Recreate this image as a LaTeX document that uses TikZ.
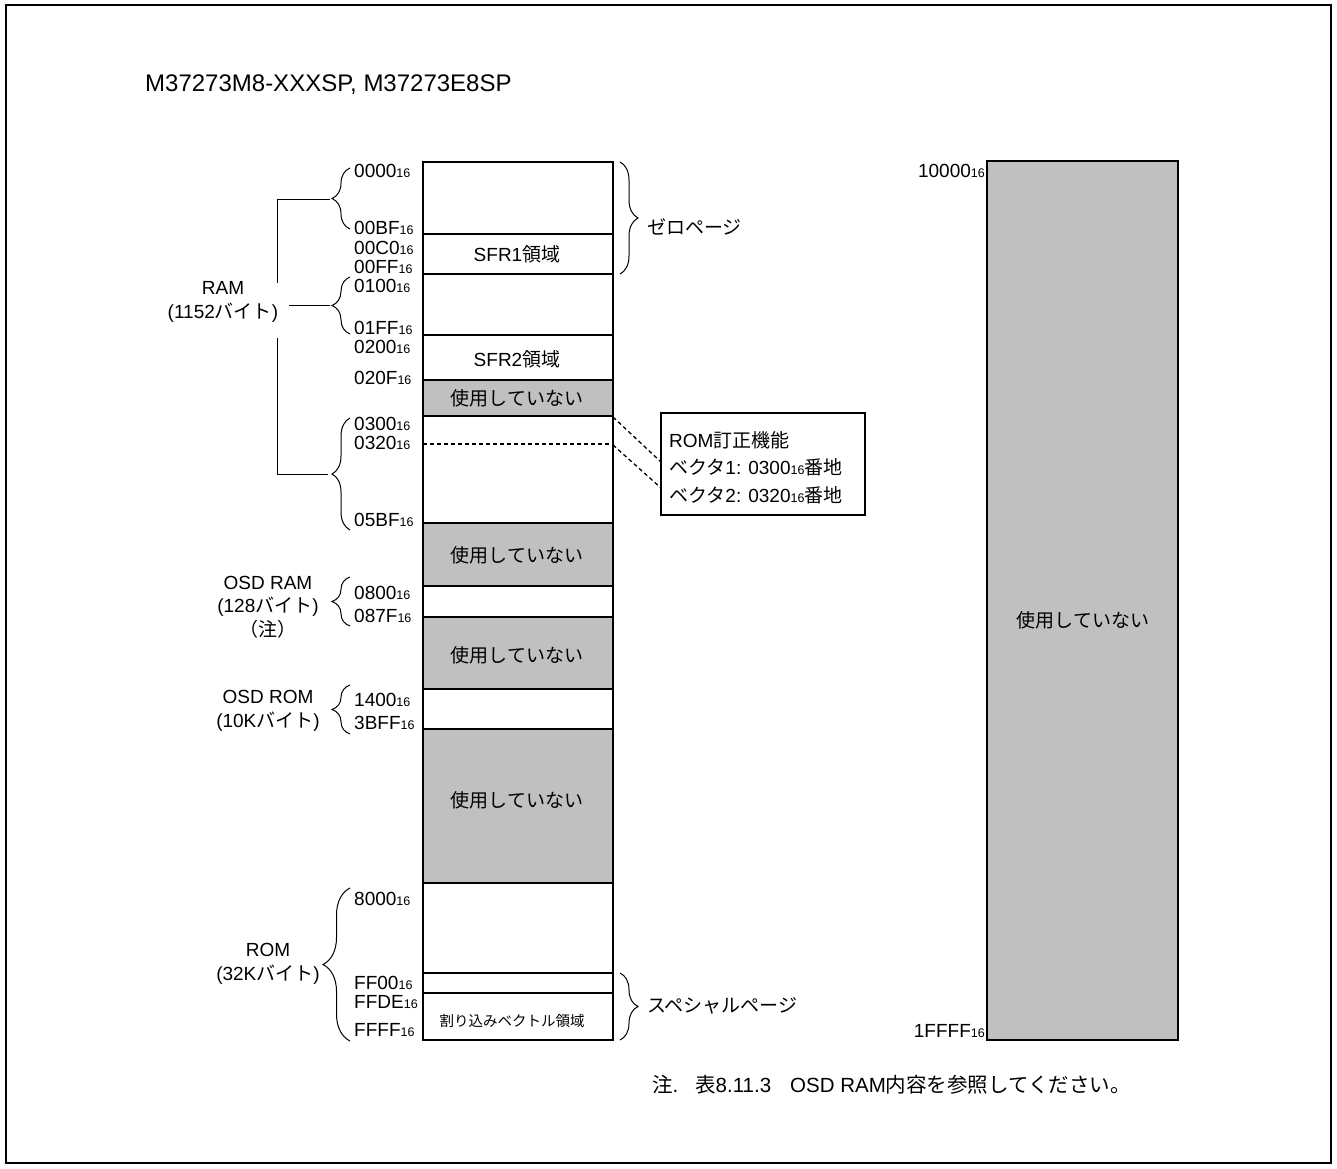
\documentclass[tikz,border=0pt]{standalone}
\usepackage{fontspec}
\setmainfont{Liberation Sans}
\newfontfamily\jp{Noto Sans CJK JP}
\usetikzlibrary{decorations.pathreplacing}
\definecolor{unused}{RGB}{192,192,192}
\newcommand\sxt{{\fontsize{12.5}{12.5}\selectfont 16}}
\begin{document}
\begin{tikzpicture}[x=1pt,y=-1pt,
  lbl/.style={font=\fontsize{19}{23.5}\selectfont, inner sep=0pt, align=center},
  addr/.style={lbl, anchor=west},
  cell/.style={draw, line width=2pt},
  grayc/.style={cell, fill=unused},
  brc/.style={decorate, decoration={brace, amplitude=18pt}, line width=1pt},
  brcbig/.style={decorate, decoration={brace, amplitude=27pt}, line width=1pt},
  conn/.style={line width=1pt},
  dconn/.style={line width=1.3pt, dash pattern=on 4pt off 3pt},
  notef/.style={lbl, anchor=west, font=\fontsize{20.5}{24}\selectfont}]
\useasboundingbox (0,0) rectangle (1337,1168);
% frame
\draw[line width=2pt] (6,5) rectangle (1331,1163);
% title
\node[lbl, font=\fontsize{24}{28}\selectfont, anchor=west] (title) at (145,85) {M37273M8-XXXSP, M37273E8SP};

% main column
\draw[cell] (423,162) rectangle (613,1040);
\draw[cell] (423,234) -- (613,234);
\draw[cell] (423,274) -- (613,274);
\draw[cell] (423,335) -- (613,335);
\draw[grayc] (423,380) rectangle (613,416);
\draw[grayc] (423,523) rectangle (613,586);
\draw[grayc] (423,617) rectangle (613,689);
\draw[grayc] (423,729) rectangle (613,883);
\draw[cell] (423,973) -- (613,973);
\draw[cell] (423,993) -- (613,993);
\draw[dconn] (423,444) -- (613,444);

\node[lbl] (sfr1) at (517,254) {SFR1{\jp 領域}};
\node[lbl] (sfr2) at (517,359) {SFR2{\jp 領域}};
\node[lbl] (nu1) at (517,398) {\jp 使用していない};
\node[lbl] (nu2) at (517,555) {\jp 使用していない};
\node[lbl] (nu3) at (517,655) {\jp 使用していない};
\node[lbl] (nu4) at (517,800) {\jp 使用していない};
\node[lbl, font=\fontsize{14.5}{17}\selectfont] (irq) at (512,1021) {\jp 割り込みベクトル領域};

% addresses
\node[addr] (a0000) at (354,171) {0000\sxt};
\node[addr] (a00BF) at (354,228) {00BF\sxt};
\node[addr] (a00C0) at (354,248) {00C0\sxt};
\node[addr] (a00FF) at (354,267) {00FF\sxt};
\node[addr] (a0100) at (354,286) {0100\sxt};
\node[addr] (a01FF) at (354,328) {01FF\sxt};
\node[addr] (a0200) at (354,347) {0200\sxt};
\node[addr] (a020F) at (354,378) {020F\sxt};
\node[addr] (a0300) at (354,424) {0300\sxt};
\node[addr] (a0320) at (354,443) {0320\sxt};
\node[addr] (a05BF) at (354,520) {05BF\sxt};
\node[addr] (a0800) at (354,593) {0800\sxt};
\node[addr] (a087F) at (354,616) {087F\sxt};
\node[addr] (a1400) at (354,700) {1400\sxt};
\node[addr] (a3BFF) at (354,723) {3BFF\sxt};
\node[addr] (a8000) at (354,899) {8000\sxt};
\node[addr] (aFF00) at (354,983) {FF00\sxt};
\node[addr] (aFFDE) at (354,1002) {FFDE\sxt};
\node[addr] (aFFFF) at (354,1030) {FFFF\sxt};

% left braces
\draw[brc] (350,229) -- (350,168);
\draw[brc] (350,334) -- (350,277);
\draw[brc] (350,530) -- (350,418);
\draw[brc] (350,626) -- (350,577);
\draw[brc] (350,734) -- (350,685);
\draw[brcbig] (350,1041) -- (350,888);
\coordinate (t1) at (330,199);
\coordinate (t2) at (330,305);
\coordinate (t3) at (328,474);

% RAM label and bracket
\node[lbl] (ram) at (223,302) {RAM\\(1152{\jp バイト})};
\coordinate (c1) at (277,199);
\coordinate (c2) at (277,283);
\coordinate (c3) at (277,338);
\coordinate (c4) at (277,474);
\coordinate (c5) at (289,305);
\draw[conn] (t1) -- (c1) -- (c2);
\draw[conn] (c3) -- (c4) -- (t3);
\draw[conn] (c5) -- (t2);

\node[lbl] (osdram) at (268,607) {OSD RAM\\(128{\jp バイト})\\{\jp （注）}};
\node[lbl] (osdrom) at (268,711) {OSD ROM\\(10K{\jp バイト})};
\node[lbl] (romlbl) at (268,964) {ROM\\(32K{\jp バイト})};

% right braces
\draw[brc] (620,162) -- (620,274);
\draw[brc] (620,973) -- (620,1040);
\node[lbl, anchor=west] (zero) at (647,227) {\jp ゼロページ};
\node[lbl, anchor=west] (spec) at (647,1006) {\jp スペシャルページ};

% ROM correction box
\draw[line width=2pt] (661,413) rectangle (865,515);
\coordinate (rb1) at (661,462);
\coordinate (rb2) at (661,488);
\coordinate (cr1) at (613,417);
\coordinate (cr2) at (613,445);
\draw[dconn] (cr1) -- (rb1);
\draw[dconn] (cr2) -- (rb2);
\node[lbl, anchor=west] (rf1) at (669,440) {ROM{\jp 訂正機能}};
\node[lbl, anchor=west] (rf2) at (669,467) {{\jp ベクタ}1: 0300\sxt{\jp 番地}};
\node[lbl, anchor=west] (rf3) at (669,495) {{\jp ベクタ}2: 0320\sxt{\jp 番地}};

% right column
\draw[grayc] (987,161) rectangle (1178,1040);
\node[lbl] (nu5) at (1083,620) {\jp 使用していない};
\node[lbl, anchor=east] (a10000) at (985,171) {10000\sxt};
\node[lbl, anchor=east] (a1FFFF) at (985,1031) {1FFFF\sxt};

% note
\node[notef] (note1) at (652,1085) {{\jp 注}.};
\node[notef] (note2) at (695,1085) {{\jp 表}8.11.3};
\node[notef] (note3) at (790,1085) {OSD RAM{\jp 内容を参照してください。}};
\end{tikzpicture}
\end{document}
